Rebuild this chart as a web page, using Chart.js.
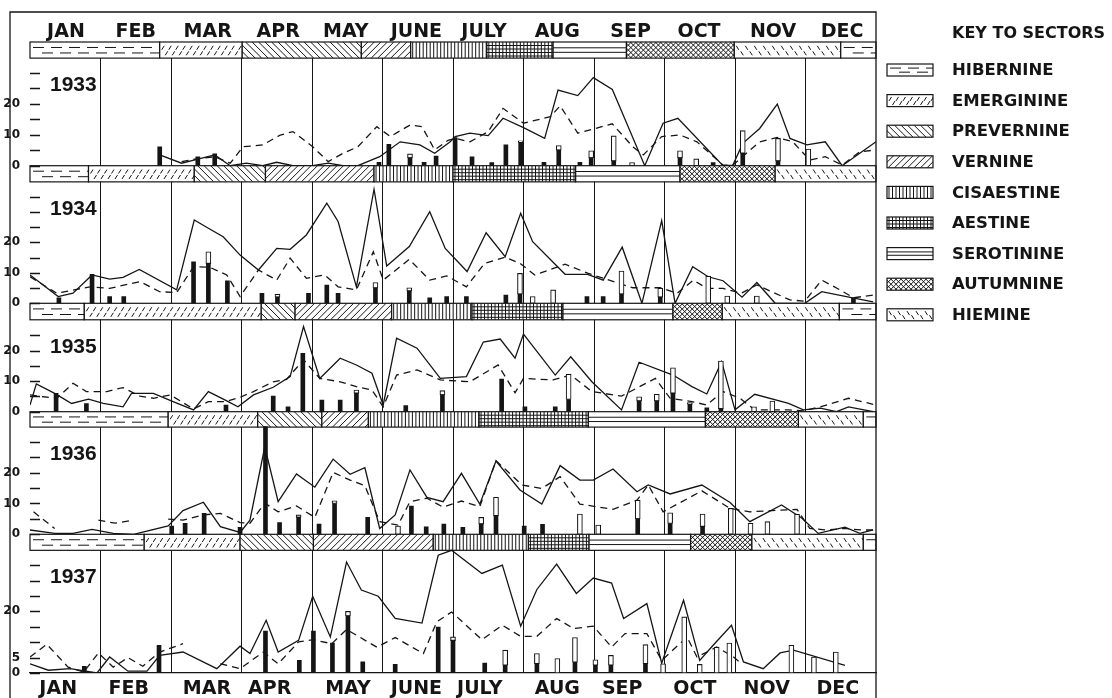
<!DOCTYPE html>
<html>
<head>
<meta charset="utf-8">
<script src="https://cdn.jsdelivr.net/npm/chart.js@4.4.1/dist/chart.umd.min.js"></script>
<style>
  html, body { margin: 0; padding: 0; background: #fff; }
  #wrap { width: 1112px; height: 698px; position: relative; }
</style>
</head>
<body>
<div id="wrap"><canvas id="chart"></canvas></div>
<script>
const INK = "#151515";

// month labels, x in months (0 = start of Jan, 12 = end of Dec)
const MONTHS = ["JAN", "FEB", "MAR", "APR", "MAY", "JUNE", "JULY", "AUG", "SEP", "OCT", "NOV", "DEC"];
const topLabelPos = [0.51, 1.50, 2.52, 3.52, 4.48, 5.48, 6.44, 7.48, 8.52, 9.49, 10.54, 11.52];
const bottomLabelPos = [0.40, 1.40, 2.51, 3.40, 4.51, 5.48, 6.38, 7.48, 8.40, 9.43, 10.45, 11.46];
const monthEdges = [1, 2, 3, 4, 5, 6, 7, 8, 9, 10, 11];

const SECTOR_KEYS = ["hib", "eme", "pre", "ver", "cis", "aes", "ser", "aut", "hie"];
const SECTOR_NAMES = ["HIBERNINE", "EMERGININE", "PREVERNINE", "VERNINE", "CISAESTINE",
  "AESTINE", "SEROTININE", "AUTUMNINE", "HIEMINE"];

const YEARS = ["1933", "1934", "1935", "1936", "1937"];
const tickLabels = [[0, 10, 20], [0, 10, 20], [0, 10, 20], [0, 10, 20], [0, 5, 20]];

// sector bands above each year
const sectors1933 = ["hib", "eme", "pre", "ver", "cis", "aes", "ser", "aut", "hie", "hib"];
const edges1933 = [0, 1.84, 3.01, 4.70, 5.40, 6.48, 7.42, 8.46, 9.99, 11.5, 12];
const sectors1934 = ["hib", "eme", "pre", "ver", "cis", "aes", "ser", "aut", "hie"];
const edges1934 = [0, 0.83, 2.33, 3.34, 4.88, 6.0, 7.74, 9.22, 10.57, 12];
const sectors1935 = ["hib", "eme", "pre", "ver", "cis", "aes", "ser", "aut", "hie", "hib"];
const edges1935 = [0, 0.77, 3.28, 3.76, 5.13, 6.27, 7.56, 9.12, 9.82, 11.48, 12];
const sectors1936 = ["hib", "eme", "pre", "ver", "cis", "aes", "ser", "aut", "hie", "hib"];
const edges1936 = [0, 1.96, 3.23, 4.14, 4.80, 6.37, 7.92, 9.58, 10.9, 11.82, 12];
const sectors1937 = ["hib", "eme", "pre", "ver", "cis", "aes", "ser", "aut", "hie", "hib"];
const edges1937 = [0, 1.62, 2.98, 4.02, 5.72, 7.07, 7.93, 9.37, 10.24, 11.82, 12];

// [month, value]; null = gap in the line
const solid1933 = [[1.84,3.5],[2.15,0.8],[2.38,2.1],[2.62,3.5],[2.84,0],[3.07,0.8],[3.30,0],[3.50,1.1],[3.73,0],[4.01,0],[4.23,0.8],[4.44,0],[4.65,0],[4.96,2.9],[5.25,7.7],[5.53,6.7],[5.74,4],[5.96,7.7],[6.03,9.4],[6.24,10.5],[6.50,9.7],[6.71,15.3],[7.00,12.3],[7.30,8.8],[7.49,24.4],[7.77,22.6],[7.99,28.4],[8.26,24.6],[8.72,0],[8.98,13.7],[9.19,15.3],[9.83,0],[9.97,0.2],[10.11,7.2],[10.35,12],[10.60,19.9],[10.78,8.8],[11.02,6.7],[11.28,7.7],[11.52,0],[12,7.7]];
const dashed1933 = [[2.15,1.3],[2.38,2.3],[2.62,2.9],[2.84,0.8],[3.02,6.1],[3.30,6.7],[3.55,9.9],[3.73,11],[4.01,6.1],[4.23,1.3],[4.44,4],[4.65,6.1],[4.92,12.6],[5.11,9.4],[5.39,13.1],[5.56,12.6],[5.74,5.1],[5.93,8.2],[6.03,8.8],[6.24,7.7],[6.50,11],[6.71,18.5],[7.00,13.7],[7.38,15.8],[7.52,19.3],[7.77,10.5],[8.26,13.5],[8.55,6.1],[8.70,3.5],[8.96,9.4],[9.22,9.9],[9.46,7.7],[9.83,0.2],[9.97,0.2],[10.35,7.7],[10.60,9.1],[10.82,7.7],[11.06,1.8],[11.28,2.9],[11.52,0.2],[11.77,4.5],[12,5.1]];
const barX1933 = [1.84,2.38,2.62,4.95,5.09,5.39,5.59,5.76,6.03,6.27,6.55,6.75,6.96,7.29,7.50,7.80,7.96,8.28,8.54,9.22,9.45,9.69,10.11,10.61,11.04];
const barFill1933 = [6.1,2.9,3.8,1.1,6.9,2.5,1.1,3.1,9.1,2.9,1.0,6.7,7.5,1.1,5.0,1.1,2.5,1.5,0,2.5,0,1.0,4.0,1.5,0];
const barTop1933 = [6.1,2.9,3.8,1.1,6.9,3.8,1.1,3.1,9.1,2.9,1.0,6.7,8.0,1.1,6.5,1.1,4.8,9.6,1.0,4.8,2.2,1.0,11.3,8.8,5.4];

const solid1934 = [[0,9.3],[0.40,2.2],[0.61,3.3],[0.88,9.3],[1.13,7.9],[1.32,8.5],[1.55,11.1],[2.08,4.4],[2.33,27.3],[2.53,24.6],[2.74,21.8],[2.98,15.8],[3.24,10.9],[3.50,18],[3.69,17.7],[3.92,22.4],[4.21,32.8],[4.37,26.8],[4.63,5.4],[4.88,37.4],[5.06,12.2],[5.38,18.6],[5.67,30],[5.89,18],[6.20,10.4],[6.47,23.1],[6.74,15.3],[6.96,29.5],[7.13,20.2],[7.59,9.5],[7.91,9.5],[8.13,7.6],[8.40,18.4],[8.68,0],[8.96,27.1],[9.15,0],[9.40,12],[9.62,8.7],[9.83,7.4],[10.10,2],[10.31,6.8],[10.57,0],[10.99,0],[11.23,3.8],[11.67,1.8],[11.96,0.5]];
const dashed1934 = [[0,8.7],[0.38,3.3],[0.85,5.4],[1.13,4.9],[1.56,7.1],[1.84,3.8],[2.08,3.5],[2.32,12],[2.55,11.8],[2.79,9.3],[2.98,2.2],[3.24,10.9],[3.50,7.6],[3.69,14.8],[3.92,8.2],[4.18,9.3],[4.37,5.4],[4.63,4.4],[4.87,16.9],[5.01,7.6],[5.38,14.4],[5.67,7.6],[5.91,9],[6.19,5.4],[6.45,13.1],[6.74,15.1],[6.95,13.1],[7.16,9.3],[7.59,12.8],[7.92,9.8],[8.13,8.2],[8.55,5.1],[8.94,5.1],[9.18,3.3],[9.41,7.6],[9.60,4.9],[9.83,4.9],[10.09,3.3],[10.31,6],[10.78,1.1],[10.99,0.7],[11.23,7.6],[11.49,4.4],[11.68,1.8],[11.96,2.7]];
const barX1934 = [0.41,0.88,1.13,1.33,2.32,2.53,2.80,3.29,3.51,3.95,4.21,4.37,4.90,5.38,5.67,5.91,6.19,6.75,6.95,7.13,7.42,7.90,8.13,8.39,8.94,9.62,9.89,10.31,11.68];
const barFill1934 = [1.8,9.5,2.2,2.2,13.6,13,7.4,3.3,2,3.3,6,3.3,5,4,1.8,2.2,2.2,2.7,3,0,0,2.2,2.2,3,2,0,0,0,1.8];
const barTop1934 = [1.8,9.5,2.2,2.2,13.6,16.9,7.4,3.3,3,3.3,6,3.3,6.8,5.1,1.8,2.2,2.2,2.7,9.8,2.2,4.4,2.2,2.2,10.6,4.9,8.9,2.4,2.4,1.8];

const solid1935 = [[0,2.2],[0.09,9.1],[0.35,6],[0.59,2.7],[0.83,4.1],[1.04,2.7],[1.32,1.6],[1.44,6],[1.75,6],[2.03,3.3],[2.32,0.6],[2.53,6.6],[2.77,3.8],[2.95,1.6],[3.17,5.5],[3.45,8],[3.69,11.5],[3.88,27.9],[4.11,10.9],[4.40,17.5],[4.63,15.3],[4.85,12.6],[5.01,2.2],[5.20,24.1],[5.49,20.8],[5.82,10.9],[6.19,11.5],[6.43,22.8],[6.67,23.8],[6.88,17.5],[7.00,25.4],[7.45,12],[7.67,18],[7.97,9.8],[8.39,0.6],[8.64,16.2],[9.12,12],[9.39,8.2],[9.60,5.8],[9.81,16.4],[10.00,0.6],[10.28,5.7],[10.76,2.7],[10.97,0.6],[11.21,1.2],[11.44,0],[11.61,1.6],[11.96,0]];
const dashed1935 = [[0,5.5],[0.19,4.9],[0.38,4.4],[0.61,9.3],[0.80,6.6],[1.09,6.6],[1.32,7.9],[1.56,5.1],[1.75,4.4],[1.99,5.5],[2.32,0.9],[2.53,3.3],[2.77,3.3],[2.98,4.7],[3.17,6.6],[3.45,9.8],[3.64,10.6],[3.88,17],[4.11,10.9],[4.40,9.8],[4.63,8.2],[4.85,7.1],[5.01,1.6],[5.20,12],[5.49,13.7],[5.82,10.4],[6.24,9.8],[6.64,15.3],[6.88,6.2],[7.00,10.9],[7.42,10.4],[7.67,12],[7.97,6.6],[8.39,5.1],[8.87,10.9],[9.08,4.4],[9.39,3.3],[9.60,2.2],[9.83,6.6],[10.07,4.4],[10.28,0.6],[10.76,0.6],[10.97,0.3],[11.21,1.6],[11.61,4.4],[11.96,2.4]];
const barX1935 = [0.37,0.80,2.78,3.45,3.66,3.87,4.14,4.40,4.63,5.33,5.85,6.69,7.02,7.45,7.64,8.64,8.89,9.12,9.36,9.60,9.80,10.27,10.53];
const barFill1935 = [6,2.7,2.2,5.1,1.6,19.1,3.8,3.8,6,2,5.5,10.7,1.6,1.6,4,3.5,3.5,6,2.5,1.3,1,0,0];
const barTop1935 = [6,2.7,2.2,5.1,1.6,19.1,3.8,3.8,7.1,2,6.9,10.7,1.6,1.6,12.3,4.9,5.7,14.4,3,1.3,16.6,1.6,3.5];

const solid1936 = [[0,1.4],[0.35,0.3],[0.61,0.3],[0.88,1.6],[1.18,0.3],[1.47,0],[1.96,2.7],[2.17,7.7],[2.46,10.4],[2.70,2.5],[2.98,0.6],[3.12,4.6],[3.33,28.4],[3.52,10.6],[3.78,19.6],[4.04,15.3],[4.30,24.4],[4.54,19.5],[4.75,21.6],[4.96,1.9],[5.18,6.3],[5.39,20.9],[5.63,12],[5.86,10.6],[6.12,19.8],[6.38,9.8],[6.61,23.8],[6.95,14.4],[7.26,9.8],[7.52,22.3],[7.80,17.6],[7.99,17.6],[8.27,21.2],[8.61,13.8],[8.77,16],[9.08,13.1],[9.53,16],[9.93,10.3],[10.21,4.1],[10.66,9.5],[10.95,5.2],[11.18,0.3],[11.56,2.3],[11.77,0.3],[11.96,1.4]];
const dashed1936 = [[0.05,7.3],[0.35,1.9],null,[0.97,4.6],[1.21,3.6],[1.47,4.6],null,[1.96,4.9],[2.17,4.6],[2.46,6.3],[2.70,6.8],[2.98,3.8],[3.12,3.6],[3.33,10.1],[3.52,7.3],[3.78,9.2],[4.04,5.5],[4.30,20.1],[4.54,17.6],[4.75,15.8],[4.96,4.1],[5.22,3],[5.39,10.6],[5.63,11.7],[5.86,8.8],[6.12,10.8],[6.38,9],[6.61,23.9],[6.98,16],[7.26,14.9],[7.52,18.7],[7.80,9.8],[8.27,8.1],[8.61,11.1],[8.77,16],[8.98,7.3],[9.53,14.1],[9.93,8.4],[10.21,7.3],[10.88,8.1],[11.06,1.9],[11.30,1.4],[11.56,1.9],[11.79,1.4],[11.96,1.4]];
const barX1936 = [2.01,2.20,2.47,2.98,3.34,3.54,3.81,4.10,4.32,4.79,5.22,5.41,5.62,5.87,6.14,6.40,6.61,7.01,7.27,7.80,8.06,8.62,9.08,9.54,9.94,10.22,10.46,10.88];
const barFill1936 = [2.7,3.6,6.8,2.3,35,3.8,5.5,3.3,10,5.5,0,9.2,2.4,3.3,2.3,3.3,6,2.7,3.2,0,0,5,3.5,2.5,0,0,0,0];
const barTop1936 = [2.7,3.6,6.8,2.3,35,3.8,6.3,3.3,10.9,5.5,2.7,9.2,2.4,3.3,2.3,5.5,12,2.7,3.2,6.6,3,11.1,7,6.6,8.4,3.6,4.1,6.5];

const solid1937 = [[0,3],[0.26,0.9],[0.57,1.4],[0.95,0],[1.13,5.2],[1.39,0.6],[1.66,0.6],[1.84,5.7],[2.17,6.8],[2.65,1.4],[2.98,8.7],[3.12,6.3],[3.35,17.1],[3.52,6.8],[3.81,10.6],[4.01,24.9],[4.26,11.7],[4.49,36],[4.70,26.9],[4.94,24.9],[5.18,17.7],[5.56,16.2],[5.79,38.2],[5.98,39.8],[6.41,32.3],[6.70,35],[6.96,15.2],[7.19,27.1],[7.47,35.3],[7.75,25.8],[7.99,30.8],[8.25,29.2],[8.42,17.7],[8.75,22.5],[8.96,3.2],[9.27,23.6],[9.50,4.1],[9.69,9],[9.95,15.5],[10.12,3.6],[10.40,1.4],[10.64,6.5],[10.83,7.4],[11.56,2.5]];
const dashed1937 = [[0,5.2],[0.24,9.3],[0.54,1.9],[0.76,0.3],[0.97,6.5],[1.18,1.9],[1.39,5],[1.60,2.2],[1.84,6.8],[2.17,9.5],null,[2.70,3],[2.98,1.4],[3.31,6.8],[3.52,3],[3.81,10.1],[4.02,10.8],[4.28,9.5],[4.49,14.1],[4.92,8.4],[5.18,11.5],[5.58,6.3],[5.77,16.6],[5.98,19.8],[6.41,10.8],[6.70,15.5],[6.96,11.9],[7.19,11.9],[7.47,17.7],[7.71,14.4],[7.99,15.2],[8.25,8.4],[8.44,12.8],[8.75,12.8],[8.96,4.1],[9.32,11.7],[9.46,5.2],[9.74,8.4],[9.98,5.2],[10.09,3]];
const barX1937 = [0.77,1.83,3.34,3.82,4.02,4.29,4.51,4.72,5.18,5.79,6.00,6.45,6.74,7.19,7.48,7.73,8.02,8.24,8.73,8.98,9.28,9.50,9.74,9.92,10.80,11.12,11.43];
const barFill1937 = [2.2,9,13.6,4.1,13.6,9.7,18.5,3.6,2.8,14.9,10.5,3.2,2.5,3,0,3.5,2.5,2.5,3,0,0,0,0,0,0,0,0];
const barTop1937 = [2.2,9,13.6,4.1,13.6,9.7,20,3.6,2.8,14.9,11.7,3.2,7.4,6.3,4.7,11.5,4.3,5.7,9.2,3,18.2,2.8,8.4,9.7,9,5.2,6.8];

const solids = [solid1933, solid1934, solid1935, solid1936, solid1937];
const dashes = [dashed1933, dashed1934, dashed1935, dashed1936, dashed1937];
const barXs = [barX1933, barX1934, barX1935, barX1936, barX1937];
const barFills = [barFill1933, barFill1934, barFill1935, barFill1936, barFill1937];
const barTops = [barTop1933, barTop1934, barTop1935, barTop1936, barTop1937];
const sectorTypes = [sectors1933, sectors1934, sectors1935, sectors1936, sectors1937];
const sectorEdges = [edges1933, edges1934, edges1935, edges1936, edges1937];

// layout of the stacked year strips (band on top, panel below)
const SECTION_PX = [123.7, 137.6, 108.4, 122.6, 138.7];
const PANEL_MAX = [39.9, 45.1, 35.5, 39.8, 45.0];
const BAND_FROM = [34.7, 39.8, 30.1, 34.8, 39.8];

const toPts = (arr) => arr.map((p, k) => p ? { x: p[0], y: p[1] } : { x: arr[k - 1][0] + 0.01, y: null });

function drawSector(ctx, type, x0, y0, x1, y1) {
  const w = x1 - x0, h = y1 - y0;
  ctx.save();
  ctx.beginPath();
  ctx.rect(x0, y0, w, h);
  ctx.clip();
  ctx.fillStyle = "#fff";
  ctx.fillRect(x0, y0, w, h);
  ctx.strokeStyle = INK;
  ctx.lineWidth = 1;
  ctx.beginPath();
  if (type === "hib") {
    [0.34, 0.68].forEach((f, r) => {
      const y = y0 + h * f;
      for (let x = x0 + 3 + r * 9; x < x1; x += 18) { ctx.moveTo(x, y); ctx.lineTo(x + 11, y); }
    });
  } else if (type === "eme" || type === "hie") {
    const step = type === "eme" ? 7 : 9;
    [0.36, 0.7].forEach((f, r) => {
      const y = y0 + h * f;
      for (let x = x0 + 2 + r * step / 2; x < x1; x += step) {
        if (type === "eme") { ctx.moveTo(x, y + 2); ctx.lineTo(x + 2.5, y - 2); }
        else { ctx.moveTo(x, y - 2); ctx.lineTo(x + 2.5, y + 2); }
      }
    });
  } else if (type === "pre" || type === "ver" || type === "aut") {
    const step = type === "aut" ? 5 : 6.5;
    for (let x = x0 - h; x < x1 + h; x += step) {
      if (type !== "ver") { ctx.moveTo(x, y0); ctx.lineTo(x + h, y1); }
      if (type !== "pre") { ctx.moveTo(x + h, y0); ctx.lineTo(x, y1); }
    }
  } else if (type === "cis" || type === "aes") {
    for (let x = x0 + 2; x < x1; x += 3.5) { ctx.moveTo(x, y0); ctx.lineTo(x, y1); }
    if (type === "aes") for (let y = y0 + 3.5; y < y1; y += 3.5) { ctx.moveTo(x0, y); ctx.lineTo(x1, y); }
  } else if (type === "ser") {
    [0.36, 0.64].forEach(f => { ctx.moveTo(x0, y0 + h * f); ctx.lineTo(x1, y0 + h * f); });
  }
  ctx.stroke();
  ctx.restore();
  ctx.strokeStyle = INK;
  ctx.lineWidth = 1.2;
  ctx.strokeRect(x0, y0, w, h);
}

const figurePlugin = {
  id: "figure",
  beforeDraw(chart) {
    const ctx = chart.ctx;
    ctx.save();
    ctx.fillStyle = "#fff";
    ctx.fillRect(0, 0, chart.width, chart.height);
    ctx.restore();
  },
  beforeDatasetsDraw(chart) {
    const ctx = chart.ctx, xs = chart.scales.x;
    ctx.save();
    YEARS.forEach((yr, i) => {
      const s = chart.scales["y" + yr];
      const yTop = s.getPixelForValue(PANEL_MAX[i]);
      const yBot = s.getPixelForValue(BAND_FROM[i]);
      const e = sectorEdges[i];
      sectorTypes[i].forEach((t, k) => {
        drawSector(ctx, t, xs.getPixelForValue(e[k]), yTop, xs.getPixelForValue(e[k + 1]), yBot);
      });
    });
    ctx.restore();
  },
  afterDraw(chart) {
    const ctx = chart.ctx, area = chart.chartArea;
    ctx.save();
    ctx.strokeStyle = INK;
    ctx.lineWidth = 1.3;
    // outer frame
    ctx.beginPath();
    ctx.moveTo(10, chart.height);
    ctx.lineTo(10, 12);
    ctx.lineTo(area.right, 12);
    ctx.lineTo(area.right, chart.height);
    ctx.stroke();
    // tick marks inside each panel, year names
    ctx.fillStyle = INK;
    ctx.textAlign = "left";
    ctx.textBaseline = "middle";
    ctx.font = "bold 21px 'Liberation Sans', Arial, sans-serif";
    YEARS.forEach((yr, i) => {
      const s = chart.scales["y" + yr];
      ctx.beginPath();
      for (let v = 0; v < BAND_FROM[i] - 1; v += 5) {
        const y = Math.round(s.getPixelForValue(v)) + 0.5;
        ctx.moveTo(area.left, y);
        ctx.lineTo(area.left + 10, y);
      }
      ctx.stroke();
      ctx.fillText(yr, 50, s.getPixelForValue(BAND_FROM[i]) + 27);
    });
    // key to sectors
    ctx.font = "bold 16px 'DejaVu Sans', sans-serif";
    ctx.fillText("KEY TO SECTORS", 952, 34);
    SECTOR_KEYS.forEach((k, i) => {
      const cy = 70 + i * 30.6;
      drawSector(ctx, k, 887, cy - 6, 933, cy + 6);
      ctx.fillStyle = INK;
      ctx.font = "bold 16.5px 'DejaVu Sans', sans-serif";
      ctx.fillText(SECTOR_NAMES[i], 952, cy + 1);
    });
    ctx.restore();
  }
};

const datasets = [];
YEARS.forEach((yr, i) => {
  const yId = "y" + yr;
  const bx = barXs[i], bf = barFills[i], bt = barTops[i];
  datasets.push({
    type: "bar", label: yr + " filled", xAxisID: "x", yAxisID: yId,
    data: bx.map((x, k) => ({ x, y: [0, bf[k]] })).filter(d => d.y[1] > 0),
    backgroundColor: INK, borderWidth: 0, barThickness: 4, grouped: false,
  });
  datasets.push({
    type: "bar", label: yr + " open", xAxisID: "x", yAxisID: yId,
    data: bx.map((x, k) => ({ x, y: [bf[k], bt[k]] })).filter(d => d.y[1] > d.y[0]),
    backgroundColor: "#fff", borderColor: INK, borderWidth: 1.1, borderSkipped: false,
    barThickness: 5, grouped: false,
  });
  datasets.push({
    type: "line", label: yr + " solid", xAxisID: "x", yAxisID: yId,
    data: toPts(solids[i]), borderColor: INK, borderWidth: 1.3,
    pointRadius: 0, tension: 0, fill: false,
  });
  datasets.push({
    type: "line", label: yr + " dashed", xAxisID: "x", yAxisID: yId,
    data: toPts(dashes[i]), borderColor: INK, borderWidth: 1.3, borderDash: [7, 5],
    pointRadius: 0, tension: 0, fill: false,
  });
});

const monthFont = { family: "'DejaVu Sans', sans-serif", size: 19, weight: "bold" };

const scales = {
  x: {
    type: "linear", position: "bottom", min: 0, max: 12, weight: 0, offset: false,
    afterBuildTicks: (s) => { s.ticks = monthEdges.map(v => ({ value: v })); },
    ticks: { display: false },
    grid: { color: INK, lineWidth: 1, drawTicks: false, offset: false },
    border: { display: true, color: INK, width: 1.3 },
    afterFit: (s) => { s.height = 0; },
  },
  xBottom: {
    type: "linear", position: "bottom", min: 0, max: 12, weight: 1, offset: false,
    afterBuildTicks: (s) => { s.ticks = bottomLabelPos.map(v => ({ value: v })); },
    ticks: { autoSkip: false, maxRotation: 0, padding: -3, color: INK, font: monthFont,
      callback: (v, k) => MONTHS[k] },
    grid: { display: false }, border: { display: false },
    afterFit: (s) => { s.height = 25; },
  },
  xTop: {
    type: "linear", position: "top", min: 0, max: 12, offset: false,
    afterBuildTicks: (s) => { s.ticks = topLabelPos.map(v => ({ value: v })); },
    ticks: { autoSkip: false, maxRotation: 0, padding: -9, color: INK, font: monthFont,
      callback: (v, k) => MONTHS[k] },
    grid: { display: false }, border: { display: false },
    afterFit: (s) => { s.height = 42; },
  },
};

YEARS.forEach((yr, i) => {
  scales["y" + yr] = {
    type: "linear", position: "left", stack: "years", stackWeight: SECTION_PX[i], weight: 5 - i,
    min: 0, max: PANEL_MAX[i],
    grid: { display: false }, border: { display: false },
    ticks: {
      stepSize: 5, includeBounds: false, autoSkip: false, padding: 2, color: INK,
      font: { family: "'DejaVu Sans', sans-serif", size: 12, weight: "bold" },
      callback: (v) => tickLabels[i].includes(v) ? String(v) : "",
    },
    afterFit: (s) => { s.width = 30; },
  };
});

new Chart(document.getElementById("chart"), {
  type: "line",
  data: { datasets },
  options: {
    responsive: true,
    maintainAspectRatio: false,
    animation: false,
    layout: { padding: { left: 0, right: 236, top: 0, bottom: 0 } },
    plugins: { legend: { display: false }, tooltip: { enabled: false } },
    scales,
  },
  plugins: [figurePlugin],
});
</script>
</body>
</html>
